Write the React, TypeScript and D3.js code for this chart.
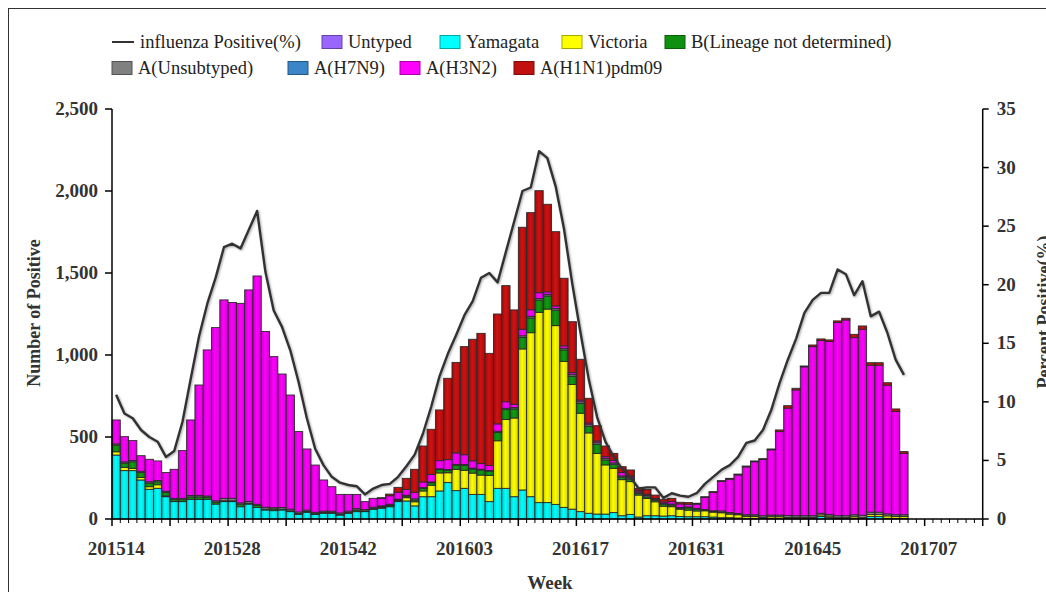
import * as d3 from 'd3';

// ISO weeks 201514 .. 201713 (2015 has 53 weeks)
const weeks: string[] = [];
for (let w = 14; w <= 53; w++) weeks.push(`2015${String(w).padStart(2, '0')}`);
for (let w = 1; w <= 52; w++) weeks.push(`2016${String(w).padStart(2, '0')}`);
for (let w = 1; w <= 13; w++) weeks.push(`2017${String(w).padStart(2, '0')}`);

const xTickLabels = ['201514', '201528', '201542', '201603', '201617', '201631', '201645', '201707'];
const leftTicks = [0, 500, 1000, 1500, 2000, 2500];
const rightTicks = [0, 5, 10, 15, 20, 25, 30, 35];

// values per week, 201514 .. 201704
const untyped = new Array(96).fill(0);
const yamagata = [
  390, 295, 295, 238, 181, 187, 136, 106, 106, 120, 120, 120, 91, 106, 106, 75, 91, 70, 55, 51, 55, 45, 28, 41, 28, 35, 35, 24, 35, 45, 45, 59,
  65, 75, 106, 110, 80, 136, 136, 171, 222, 173, 187, 150, 150, 106, 187, 187, 136, 177, 136, 100, 100, 89, 71, 60, 45, 35, 30, 30, 39, 20, 28, 12,
  20, 20, 18, 20, 15, 14, 14, 14, 12, 8, 8, 6, 4, 4, 4, 4, 4, 4, 4, 4, 4, 15, 10, 4, 4, 4, 4, 15, 15, 4, 4, 4,
];
const victoria = [
  20, 20, 14, 15, 16, 22, 5, 0, 0, 0, 0, 0, 0, 0, 0, 0, 0, 0, 0, 0, 0, 0, 0, 0, 0, 0, 0, 0, 0, 0, 0, 0,
  5, 5, 5, 20, 25, 35, 70, 110, 60, 130, 110, 130, 118, 160, 290, 420, 480, 860, 1000, 1160, 1180, 1090, 890, 760, 600, 490, 370, 300, 270, 220, 200, 134,
  105, 85, 60, 55, 45, 40, 35, 36, 30, 30, 22, 20, 12, 12, 6, 10, 10, 6, 6, 6, 6, 10, 8, 4, 4, 10, 4, 12, 12, 15, 12, 12,
];
const bLineageNd = [
  40, 25, 40, 30, 22, 18, 20, 12, 12, 15, 15, 12, 12, 5, 5, 15, 5, 12, 5, 10, 5, 5, 5, 5, 5, 5, 5, 5, 5, 10, 5, 5,
  5, 5, 5, 10, 10, 15, 15, 20, 15, 25, 30, 25, 30, 25, 50, 60, 55, 70, 90, 75, 80, 95, 70, 50, 60, 40, 55, 30, 25, 15, 15, 10,
  10, 10, 12, 10, 5, 14, 10, 3, 3, 3, 2, 2, 2, 2, 0, 0, 0, 0, 0, 0, 0, 0, 0, 0, 0, 0, 0, 0, 0, 0, 0, 0,
];
const aUnsubtyped = [
  8, 8, 8, 8, 8, 8, 8, 8, 8, 8, 8, 8, 8, 15, 15, 8, 10, 8, 12, 8, 10, 10, 10, 8, 8, 8, 8, 8, 8, 8, 8, 8,
  5, 5, 5, 5, 8, 5, 5, 5, 5, 5, 5, 5, 5, 5, 8, 8, 8, 10, 10, 10, 10, 10, 10, 10, 10, 10, 10, 10, 8, 8, 8, 8,
  8, 6, 6, 6, 5, 5, 5, 5, 5, 8, 8, 6, 8, 8, 10, 10, 10, 12, 10, 10, 10, 10, 10, 12, 12, 12, 15, 15, 15, 12, 10, 10,
];
const aH7N9 = new Array(96).fill(0);
const aH3N2 = [
  146, 154, 121, 95, 137, 119, 114, 177, 291, 461, 674, 891, 1056, 1210, 1194, 1217, 1291, 1392, 1071, 921, 814, 696, 490, 373, 288, 190, 149, 113, 102, 87, 48, 54,
  45, 52, 42, 35, 40, 35, 45, 50, 60, 70, 60, 45, 35, 30, 45, 40, 20, 40, 40, 35, 15, 15, 15, 12, 10, 10, 10, 10, 15, 20, 10, 8,
  8, 5, 8, 15, 22, 17, 27, 73, 112, 180, 203, 235, 292, 323, 343, 398, 509, 654, 767, 908, 1031, 1053, 1054, 1178, 1194, 1080, 1134, 896, 896, 785, 630, 375,
];
const aH1N1pdm09 = [
  0, 0, 0, 0, 0, 0, 0, 0, 0, 0, 0, 0, 0, 0, 0, 0, 0, 0, 0, 0, 0, 0, 0, 0, 0, 0, 0, 0, 0, 0, 0, 0,
  5, 10, 30, 68, 140, 219, 276, 309, 496, 552, 659, 741, 794, 684, 670, 708, 576, 622, 592, 622, 534, 453, 412, 311, 249, 151, 94, 65, 43, 36, 38, 15,
  30, 20, 16, 20, 10, 10, 5, 5, 5, 5, 5, 5, 5, 5, 5, 5, 10, 15, 10, 5, 10, 10, 10, 10, 10, 20, 20, 15, 15, 15, 15, 10,
];
const positivePct = [
  10.6, 9.0, 8.6, 7.6, 7.0, 6.6, 5.3, 5.8, 8.3, 12.0, 15.6, 18.4, 20.6, 23.2, 23.5, 23.1, 24.7, 26.3, 21.1, 17.8, 16.4, 14.4, 11.7, 8.6, 6.0, 4.6, 3.6, 3.1, 2.9, 2.8, 2.1, 2.6,
  2.9, 3.0, 3.6, 4.5, 5.5, 7.3, 9.6, 12.2, 14.1, 15.7, 17.4, 18.6, 20.6, 21.0, 20.2, 22.8, 25.4, 28.0, 28.3, 31.4, 30.8, 28.4, 24.8, 20.1, 15.9, 11.9, 8.7, 6.6, 5.3, 4.3, 3.6, 2.6,
  2.7, 2.7, 1.8, 2.2, 2.0, 1.9, 2.2, 3.0, 3.6, 4.2, 4.6, 5.3, 6.5, 6.7, 7.6, 9.3, 11.6, 13.6, 15.4, 17.6, 18.7, 19.3, 19.3, 21.3, 20.9, 19.1, 20.3, 17.3, 17.7, 15.9, 13.6, 12.3,
];

const series = [
  { key: 'untyped', name: 'Untyped', color: '#9966ff', values: untyped },
  { key: 'yamagata', name: 'Yamagata', color: '#00ffff', values: yamagata },
  { key: 'victoria', name: 'Victoria', color: '#ffff00', values: victoria },
  { key: 'bnd', name: 'B(Lineage not determined)', color: '#109010', values: bLineageNd },
  { key: 'aunsub', name: 'A(Unsubtyped)', color: '#808080', values: aUnsubtyped },
  { key: 'h7n9', name: 'A(H7N9)', color: '#3a86c8', values: aH7N9 },
  { key: 'h3n2', name: 'A(H3N2)', color: '#ff00ff', values: aH3N2 },
  { key: 'h1n1', name: 'A(H1N1)pdm09', color: '#c01010', values: aH1N1pdm09 },
];

const rows = positivePct.map((_, i) => {
  const r: Record<string, number | string> = { week: weeks[i] };
  series.forEach((s) => (r[s.key] = s.values[i]));
  return r;
});

const FONT = "'Liberation Serif', 'Times New Roman', serif";

export default function App() {
  const W = 1038;
  const H = 584;
  const left = 104;
  const right = 974.7;
  const top = 101;
  const bottom = 511;

  const x = d3.scaleBand<string>().domain(weeks).range([left, right]).padding(0);
  const y = d3.scaleLinear().domain([0, 2500]).range([bottom, top]);
  const y2 = d3.scaleLinear().domain([0, 35]).range([bottom, top]);

  const stack = d3.stack<Record<string, number | string>>().keys(series.map((s) => s.key));
  const layers = stack(rows as any);

  const line = d3
    .line<number>()
    .x((_, i) => (x(weeks[i]) ?? 0) + x.bandwidth() / 2)
    .y((d) => y2(d));

  const fmt = d3.format(',');
  const bw = x.bandwidth();

  const legendRow1 = [
    { s: series[0], bx: 314 },
    { s: series[1], bx: 432 },
    { s: series[2], bx: 554 },
    { s: series[3], bx: 657 },
  ];
  const legendRow2 = [
    { s: series[4], bx: 104 },
    { s: series[5], bx: 280 },
    { s: series[6], bx: 392 },
    { s: series[7], bx: 506 },
  ];

  return (
    <svg
      width={W}
      height={H}
      style={{ position: 'absolute', left: 8, top: 8, fontFamily: FONT, background: '#fff' }}
    >
      <defs>
        {series.map((s) => {
          const c = d3.color(s.color)!;
          return (
            <linearGradient key={s.key} id={`g-${s.key}`} x1="0" x2="1" y1="0" y2="0">
              <stop offset="0%" stopColor={c.darker(0.7).formatHex()} />
              <stop offset="45%" stopColor={c.brighter(0.25).formatHex()} />
              <stop offset="100%" stopColor={c.darker(0.5).formatHex()} />
            </linearGradient>
          );
        })}
        <filter id="shadow" x="-5%" y="-5%" width="110%" height="110%">
          <feDropShadow dx="1" dy="1" stdDeviation="1.3" floodColor="#000" floodOpacity="0.35" />
        </filter>
      </defs>

      {/* frame */}
      <line x1={0.5} y1={0} x2={0.5} y2={H} stroke="#333" />
      <line x1={0} y1={0.5} x2={W} y2={0.5} stroke="#333" />

      {/* legend */}
      <g fontSize={18.5} fill="#222">
        <line x1={104} x2={126} y1={34} y2={34} stroke="#333" strokeWidth={2} />
        <text x={132} y={40}>influenza Positive(%)</text>
        {legendRow1.map(({ s, bx }) => (
          <g key={s.key}>
            <rect x={bx} y={27.5} width={20} height={13} fill={s.color} stroke={d3.color(s.color)!.darker(1.2).formatHex()} />
            <text x={bx + 26} y={40}>{s.name}</text>
          </g>
        ))}
        {legendRow2.map(({ s, bx }) => (
          <g key={s.key}>
            <rect x={bx} y={53.5} width={20} height={13} fill={s.color} stroke={d3.color(s.color)!.darker(1.2).formatHex()} />
            <text x={bx + 26} y={66}>{s.name}</text>
          </g>
        ))}
      </g>

      {/* bars */}
      {layers.map((layer, li) => (
        <g key={series[li].key} fill={`url(#g-${series[li].key})`} stroke="#2a2a2a" strokeWidth={0.9}>
          {layer.map((d, i) =>
            d[1] - d[0] > 0 ? (
              <rect
                key={i}
                x={x(weeks[i])}
                y={y(d[1])}
                width={bw}
                height={y(d[0]) - y(d[1])}
              />
            ) : null
          )}
        </g>
      ))}

      {/* percent line */}
      <path
        d={line(positivePct) ?? ''}
        fill="none"
        stroke="#333"
        strokeWidth={2.4}
        strokeLinejoin="round"
        filter="url(#shadow)"
      />

      {/* left axis */}
      <line x1={left} x2={left} y1={top} y2={bottom} stroke="#000" strokeWidth={1.5} />
      {leftTicks.map((t) => (
        <g key={t}>
          <line x1={left - 7} x2={left} y1={y(t)} y2={y(t)} stroke="#000" strokeWidth={1.5} />
          <text x={left - 14} y={y(t) + 6} textAnchor="end" fontWeight="bold" fontSize={19} fill="#333">
            {fmt(t)}
          </text>
        </g>
      ))}

      {/* right axis */}
      <line x1={right} x2={right} y1={top} y2={bottom} stroke="#000" strokeWidth={1.5} />
      {rightTicks.map((t) => (
        <g key={t}>
          <line x1={right} x2={right + 6} y1={y2(t)} y2={y2(t)} stroke="#000" strokeWidth={1.5} />
          <text x={right + 14} y={y2(t) + 6} textAnchor="start" fontWeight="bold" fontSize={19} fill="#333">
            {t}
          </text>
        </g>
      ))}

      {/* x axis */}
      <line x1={left} x2={right} y1={bottom} y2={bottom} stroke="#000" strokeWidth={1.5} />
      {d3.range(weeks.length + 1).map((k) => {
        const xx = left + k * bw;
        return (
          <line
            key={k}
            x1={xx}
            x2={xx}
            y1={bottom}
            y2={bottom + (k % 7 === 0 ? 7 : 4)}
            stroke="#000"
            strokeWidth={k % 7 === 0 ? 1.5 : 1}
          />
        );
      })}
      {xTickLabels.map((lab) => (
        <text
          key={lab}
          x={(x(lab) ?? 0) + bw / 2}
          y={547}
          textAnchor="middle"
          fontWeight="bold"
          fontSize={19}
          fill="#333"
        >
          {lab}
        </text>
      ))}

      {/* axis titles */}
      <text transform="translate(32,305) rotate(-90)" textAnchor="middle" fontWeight="bold" fontSize={18} fill="#333">
        Number of Positive
      </text>
      <text transform="translate(1042,304) rotate(-90)" textAnchor="middle" fontWeight="bold" fontSize={18} fill="#333">
        Percent Positive(%)
      </text>
      <text x={542} y={581} textAnchor="middle" fontWeight="bold" fontSize={19} fill="#333">
        Week
      </text>
    </svg>
  );
}
